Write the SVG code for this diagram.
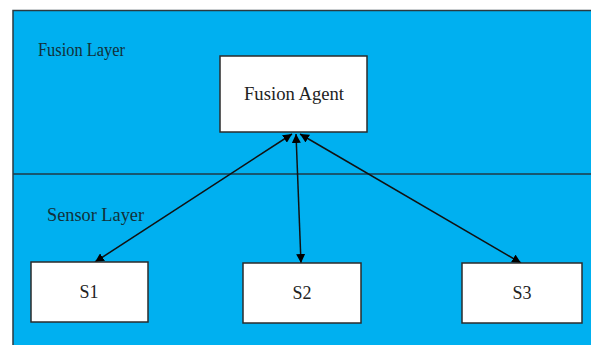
<svg xmlns="http://www.w3.org/2000/svg" width="591" height="345" viewBox="0 0 591 345">
  <style>
    .layer { fill: #00B0F0; stroke: #2b3a40; stroke-width: 1.5; }
    .box { fill: #ffffff; stroke: #2b2b2b; stroke-width: 1.5; }
    .lbl { font-family: "Liberation Serif", "Times New Roman", serif; font-size: 18px; fill: #12303a; }
    .name { font-family: "Liberation Serif", "Times New Roman", serif; font-size: 18px; fill: #222; text-anchor: middle; }
    .edge { stroke: #111; stroke-width: 1.5; fill: none; marker-start: url(#head); marker-end: url(#head); }
  </style>
  <defs>
    <marker id="head" viewBox="0 0 10 10" refX="10" refY="5" markerWidth="9" markerHeight="9" markerUnits="userSpaceOnUse" orient="auto-start-reverse">
      <path d="M0,0 L10,5 L0,10 z" fill="#000"/>
    </marker>
  </defs>
  <rect width="591" height="345" fill="#ffffff"/>
  <!-- layer panel -->
  <g id="layers">
    <rect class="layer" x="13" y="10.5" width="590" height="345"/>
    <line x1="13" y1="174" x2="591" y2="174" stroke="#1f3a46" stroke-width="1.5"/>
    <text class="lbl" x="38" y="56" textLength="87" lengthAdjust="spacingAndGlyphs">Fusion Layer</text>
    <text class="lbl" x="47" y="221" textLength="97" lengthAdjust="spacingAndGlyphs">Sensor Layer</text>
  </g>
  <g id="connectors">
    <line class="edge" x1="292" y1="134" x2="95" y2="262"/>
    <line class="edge" x1="296" y1="134" x2="301" y2="263"/>
    <line class="edge" x1="300" y1="134" x2="521" y2="263"/>
  </g>
  <g id="fusion-agent">
    <rect class="box" x="220" y="56" width="147" height="76"/>
    <text class="name" x="294" y="100" textLength="100" lengthAdjust="spacingAndGlyphs">Fusion Agent</text>
  </g>
  <g id="s1">
    <rect class="box" x="31" y="262" width="117" height="60"/>
    <text class="name" x="89" y="298">S1</text>
  </g>
  <g id="s2">
    <rect class="box" x="243" y="263" width="118" height="60"/>
    <text class="name" x="302" y="299">S2</text>
  </g>
  <g id="s3">
    <rect class="box" x="462" y="263" width="120" height="60"/>
    <text class="name" x="522" y="299">S3</text>
  </g>
</svg>
